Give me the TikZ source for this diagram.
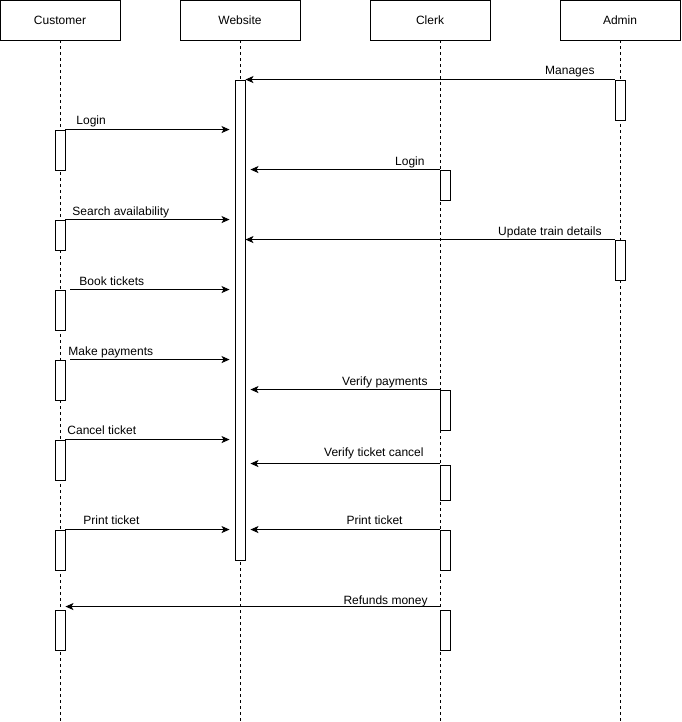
\documentclass[tikz,border=0pt]{standalone}
\usepackage{fontspec}
\setmainfont{Liberation Sans}
\usetikzlibrary{arrows.meta}
\begin{document}
\begin{tikzpicture}[x=1pt,y=-1pt, line width=0.9pt,
  txt/.style={font=\fontsize{12}{14}\selectfont},
  head/.style={draw, txt, minimum width=120pt, minimum height=40pt, inner sep=0pt},
  bar/.style={draw, fill=white, minimum width=10pt, inner sep=0pt},
  life/.style={dash pattern=on 3pt off 3pt},
  msg/.style={-{Stealth[length=8pt,width=7pt,inset=2pt]}},
  lbl/.style={txt, inner sep=0pt}]
\useasboundingbox (0,0) rectangle (681,722);

% participants
\node[head] (cust) at (60,20) {Customer};
\node[head] (web) at (240,20) {Website};
\node[head] (clerk) at (430,20) {Clerk};
\node[head] (admin) at (620,20) {Admin};

% lifelines
\coordinate (custEnd) at (60,722);
\coordinate (webEnd) at (240,722);
\coordinate (clerkEnd) at (440,722);
\coordinate (adminEnd) at (620,722);
\draw[life] (cust.south) -- (custEnd);
\draw[life] (web.south) -- (webEnd);
\draw[life] (clerk.south -| clerkEnd) -- (clerkEnd);
\draw[life] (admin.south) -- (adminEnd);

% activation bars
\node[bar, minimum height=480pt] (w) at (240,320) {};

\node[bar, minimum height=40pt] (c1) at (60,150) {};
\node[bar, minimum height=30pt] (c2) at (60,235) {};
\node[bar, minimum height=40pt] (c3) at (60,310) {};
\node[bar, minimum height=40pt] (c4) at (60,380) {};
\node[bar, minimum height=40pt] (c5) at (60,460) {};
\node[bar, minimum height=40pt] (c6) at (60,550) {};
\node[bar, minimum height=40pt] (c7) at (60,630) {};

\node[bar, minimum height=30pt] (k1) at (445,185) {};
\node[bar, minimum height=40pt] (k2) at (445,410) {};
\node[bar, minimum height=35pt] (k3) at (445,482.5) {};
\node[bar, minimum height=40pt] (k4) at (445,550) {};
\node[bar, minimum height=40pt] (k5) at (445,630) {};

\node[bar, minimum height=40pt] (a1) at (620,100) {};
\node[bar, minimum height=40pt] (a2) at (620,260) {};

% messages
\draw[msg] (a1.north west) -- (a1.north west -| w.east);
\draw[msg, shorten >=5pt] (c1.north east) -- (c1.north east -| w.west);
\draw[msg, shorten >=5pt] (k1.north west) -- (k1.north west -| w.east);
\draw[msg, shorten >=5pt] (c2.north east) -- (c2.north east -| w.west);
\draw[msg] (a2.north west) -- (a2.north west -| w.east);
\draw[msg, shorten <=5pt, shorten >=5pt] (c3.north east) -- (c3.north east -| w.west);
\draw[msg, shorten <=5pt, shorten >=5pt] (c4.north east) -- (c4.north east -| w.west);
\draw[msg, shorten >=5pt] (k2.north west) -- (k2.north west -| w.east);
\draw[msg, shorten >=5pt] (c5.north east) -- (c5.north east -| w.west);
\draw[msg, shorten >=5pt] ([yshift=1pt]k3.north west) -- ([yshift=1pt]k3.north west -| w.east);
\draw[msg, shorten >=5pt] (c6.north east) -- (c6.north east -| w.west);
\draw[msg, shorten >=5pt] (k4.north west) -- (k4.north west -| w.east);
\draw[msg] ([yshift=3pt]k5.north west) -- ([yshift=3pt]k5.north west -| c7.east);

% message labels
\node[lbl, anchor=base east] (lManages) at (595,74.5) {Manages};
\node[lbl, anchor=base west] (lLogin1) at (76,125) {Login};
\node[lbl, anchor=base east] (lLogin2) at (425,165) {Login};
\node[lbl, anchor=base west] (lSearch) at (72,215) {Search availability};
\node[lbl, anchor=base east] (lUpdate) at (602,235) {Update train details};
\node[lbl, anchor=base west] (lBook) at (79,285) {Book tickets};
\node[lbl, anchor=base west] (lPay) at (68,355) {Make payments};
\node[lbl, anchor=base east] (lVPay) at (428,385) {Verify payments};
\node[lbl, anchor=base west] (lCancel) at (67,434.5) {Cancel ticket};
\node[lbl, anchor=base east] (lVCancel) at (424,456) {Verify ticket cancel};
\node[lbl, anchor=base west] (lPrint1) at (83,524) {Print ticket};
\node[lbl, anchor=base east] (lPrint2) at (403,524) {Print ticket};
\node[lbl, anchor=base east] (lRefund) at (428,604.5) {Refunds money};
\end{tikzpicture}
\end{document}
